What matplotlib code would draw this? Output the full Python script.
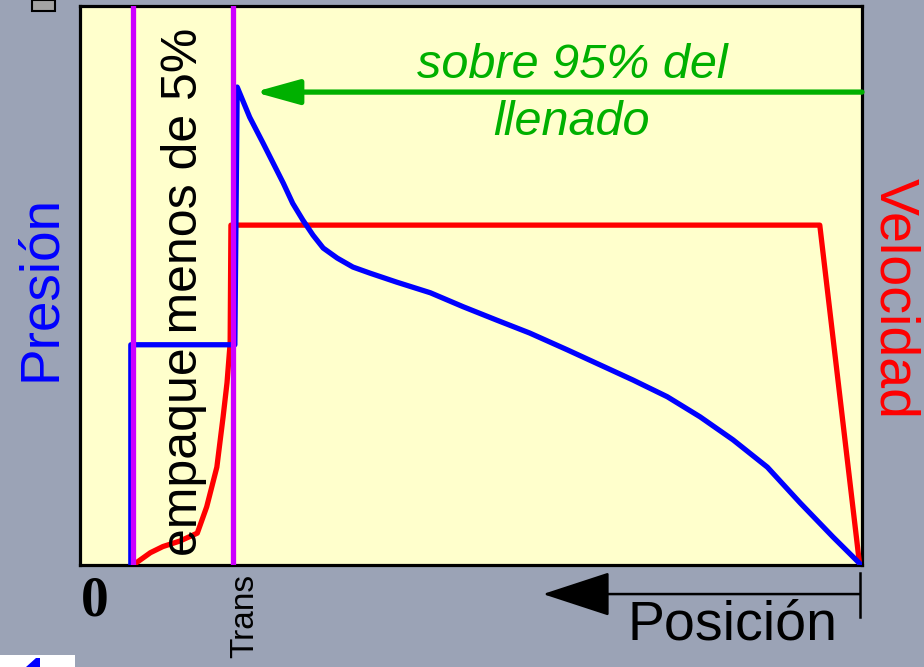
# Presión / velocidad vs posición (llenado y empaque)

import numpy as np
import matplotlib.pyplot as plt
from matplotlib.patches import Rectangle, Polygon

plt.rcParams['font.family'] = ['Liberation Sans', 'DejaVu Sans']

# posición (0-100) and valores (0-100)
pres_x = [6.5, 6.5, 19.8, 20.1, 21.7, 23.4, 24.7, 26.0, 27.2, 28.5, 29.8, 31.1,
          32.9, 34.9, 37.1, 40.5, 44.8, 49.0, 53.3, 57.5, 62.3, 66.5, 70.7,
          75.1, 79.3, 83.5, 87.9, 92.1, 96.3, 99.9]
pres_y = [0, 39.4, 39.4, 85.5, 80.1, 75.5, 71.9, 68.3, 64.7, 61.7, 59.0, 56.7,
          54.9, 53.3, 52.2, 50.6, 48.7, 46.2, 43.8, 41.5, 38.5, 35.8, 33.1,
          30.1, 26.5, 22.4, 17.5, 11.1, 5.0, 0]

vel_x = [6.8, 7.7, 9.0, 10.6, 12.8, 15.0, 16.2, 17.5, 18.3, 18.8, 19.2, 19.3, 94.6, 99.7]
vel_y = [0, 0.9, 2.2, 3.3, 4.3, 5.7, 10.4, 17.5, 26.5, 32.6, 39.7, 60.8, 60.8, 0]

limites = [6.8, 19.6]          # inicio empaque / transferencia
llenado_y = 84.6               # green arrow level
llenado_x = [100, 22.3]        # from, to
pos_arrow_x = [99.7, 59.2]
pos_arrow_y = -5.2

W, H = 924, 667
bg = '#9ba3b6'

fig = plt.figure(figsize=(W / 100, H / 100), dpi=100, facecolor=bg)
ax = fig.add_axes([80 / W, 1 - 565 / H, 782 / W, 559 / H])
ax.set_facecolor('#ffffcc')
ax.set_xlim(0, 100)
ax.set_ylim(0, 100)
ax.set_xticks([])
ax.set_yticks([])
for s in ax.spines.values():
    s.set_linewidth(2.3)
    s.set_color('black')

ax.plot(vel_x, vel_y, color='#ff0000', lw=3.8, solid_joinstyle='round', zorder=3)
ax.plot(pres_x, pres_y, color='#0000ff', lw=3.8, solid_joinstyle='round', zorder=3)
for xv in limites:
    ax.axvline(xv, color='#cc00ff', lw=3.8, zorder=4)

# llenado arrow
ax.annotate('', xy=(llenado_x[1], llenado_y), xytext=(llenado_x[0], llenado_y),
            arrowprops=dict(arrowstyle='-|>,head_length=1.8,head_width=0.5',
                            color='#00b000', lw=3.8, shrinkA=0, shrinkB=0,
                            mutation_scale=15),
            annotation_clip=False, zorder=5)

ax.text(62.9, 87.1, 'sobre 95% del', color='#00b000', fontsize=35,
        style='italic', ha='center', va='baseline')
ax.text(62.8, 76.9, 'llenado', color='#00b000', fontsize=35,
        style='italic', ha='center', va='baseline')
ax.text(13.3, 48.8, 'empaque menos de 5%', color='black', fontsize=36,
        rotation=90, ha='center', va='center', zorder=6)

# posición arrow under the axis
ax.annotate('', xy=(pos_arrow_x[1], pos_arrow_y), xytext=(pos_arrow_x[0], pos_arrow_y),
            arrowprops=dict(arrowstyle='-|>,head_length=2.9,head_width=0.95',
                            color='black', lw=1.8, shrinkA=0, shrinkB=0,
                            mutation_scale=15),
            annotation_clip=False)
ax.plot([pos_arrow_x[0], pos_arrow_x[0]], [-1.4, -9.3], color='black', lw=1.8,
        clip_on=False)


def fx(px):
    return px / W


def fy(py):
    return 1 - py / H


fig.text(fx(41), fy(288), 'Presión', color='#0000ff', fontsize=39.5,
         rotation=90, ha='center', va='center')
fig.text(fx(894), fy(298), 'Velocidad', color='#ff0000', fontsize=40,
         rotation=270, ha='center', va='center')
fig.text(fx(733), fy(640), 'Posición', color='black', fontsize=40,
         ha='center', va='baseline')
fig.text(fx(95), fy(601), '0', color='black', fontsize=40, family='Liberation Serif',
         weight='bold', ha='center', va='center')
fig.text(fx(245), fy(574), 'Trans', color='black', fontsize=24,
         rotation=90, ha='center', va='top')

# small decorations at the corners
fig.patches.append(Rectangle((fx(32), fy(11)), 23 / W, 11 / H, transform=fig.transFigure,
                             facecolor='#a3a3a3', edgecolor='black', lw=1.5))
fig.patches.append(Rectangle((0, 0), 75 / W, 12 / H, transform=fig.transFigure,
                             facecolor='white', edgecolor='none'))
fig.patches.append(Polygon([[fx(26), fy(667)], [fx(36), fy(658)], [fx(40), fy(658)],
                            [fx(40), fy(667)]], closed=True, transform=fig.transFigure,
                           facecolor='#0000ff', edgecolor='none'))

fig.savefig('out.png', dpi=100, facecolor=bg)
